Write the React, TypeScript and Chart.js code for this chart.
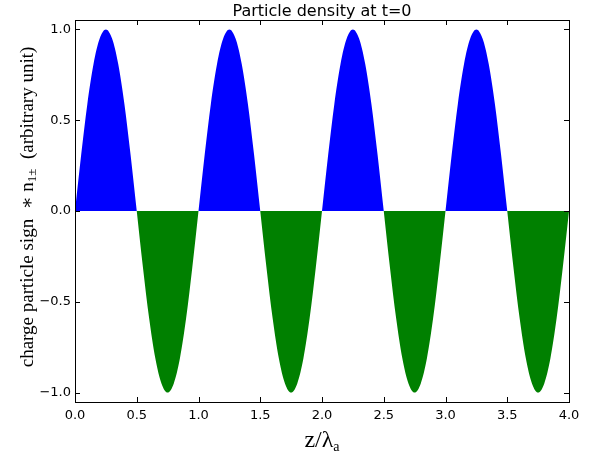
import React, { useEffect, useRef } from "react";
import { Chart, registerables } from "chart.js";

Chart.register(...registerables);

const zValues = [
  0, 0.05, 0.1, 0.15, 0.2, 0.25, 0.3, 0.35, 0.4, 0.45, 0.5, 0.55, 0.6, 0.65, 0.7, 0.75, 0.8, 0.85, 0.9, 0.95,
  1, 1.05, 1.1, 1.15, 1.2, 1.25, 1.3, 1.35, 1.4, 1.45, 1.5, 1.55, 1.6, 1.65, 1.7, 1.75, 1.8, 1.85, 1.9, 1.95,
  2, 2.05, 2.1, 2.15, 2.2, 2.25, 2.3, 2.35, 2.4, 2.45, 2.5, 2.55, 2.6, 2.65, 2.7, 2.75, 2.8, 2.85, 2.9, 2.95,
  3, 3.05, 3.1, 3.15, 3.2, 3.25, 3.3, 3.35, 3.4, 3.45, 3.5, 3.55, 3.6, 3.65, 3.7, 3.75, 3.8, 3.85, 3.9, 3.95,
  4,
];

const density = [
  0, 0.31, 0.59, 0.81, 0.95, 1, 0.95, 0.81, 0.59, 0.31, 0, -0.31, -0.59, -0.81, -0.95, -1, -0.95, -0.81, -0.59, -0.31,
  0, 0.31, 0.59, 0.81, 0.95, 1, 0.95, 0.81, 0.59, 0.31, 0, -0.31, -0.59, -0.81, -0.95, -1, -0.95, -0.81, -0.59, -0.31,
  0, 0.31, 0.59, 0.81, 0.95, 1, 0.95, 0.81, 0.59, 0.31, 0, -0.31, -0.59, -0.81, -0.95, -1, -0.95, -0.81, -0.59, -0.31,
  0, 0.31, 0.59, 0.81, 0.95, 1, 0.95, 0.81, 0.59, 0.31, 0, -0.31, -0.59, -0.81, -0.95, -1, -0.95, -0.81, -0.59, -0.31,
  0,
];

const xTicks = [0, 0.5, 1, 1.5, 2, 2.5, 3, 3.5, 4];
const yTicks = [-1, -0.5, 0, 0.5, 1];

const TITLE = "Particle density at t=0";

const fmt = (v: number) => {
  const s = Math.abs(v).toFixed(1);
  return v < 0 ? "\u2212" + s : s;
};

const framePlugin = {
  id: "frame",
  afterDraw(chart: any) {
    const { ctx, chartArea } = chart;
    const { left, right, top, bottom } = chartArea;
    const xs = chart.scales.x;
    const ys = chart.scales.y;
    ctx.save();
    ctx.strokeStyle = "#000";
    ctx.lineWidth = 1;
    const L = 5;
    ctx.beginPath();
    xTicks.forEach((v) => {
      const px = Math.round(xs.getPixelForValue(v)) + 0.5;
      ctx.moveTo(px, bottom);
      ctx.lineTo(px, bottom - L);
      ctx.moveTo(px, top);
      ctx.lineTo(px, top + L);
    });
    yTicks.forEach((v) => {
      const py = Math.round(ys.getPixelForValue(v)) + 0.5;
      ctx.moveTo(left, py);
      ctx.lineTo(left + L, py);
      ctx.moveTo(right, py);
      ctx.lineTo(right - L, py);
    });
    ctx.stroke();
    ctx.strokeRect(Math.round(left) + 0.5, Math.round(top) + 0.5, Math.round(right - left), Math.round(bottom - top));

    // title
    ctx.fillStyle = "#000";
    ctx.font = "16px 'DejaVu Sans'";
    ctx.textAlign = "center";
    ctx.textBaseline = "alphabetic";
    ctx.fillText(TITLE, (left + right) / 2, 16);

    // x label: z/λ_a
    const serif = "'Liberation Serif', 'DejaVu Serif', serif";
    const main = "z/\u03bb";
    ctx.font = "24px " + serif;
    const w1 = ctx.measureText(main).width;
    ctx.font = "14px " + serif;
    const w2 = ctx.measureText("a").width;
    const x0 = (left + right) / 2 - (w1 + w2) / 2;
    ctx.textAlign = "left";
    ctx.font = "24px " + serif;
    ctx.fillText(main, x0, 447);
    ctx.font = "14px " + serif;
    ctx.fillText("a", x0 + w1, 451);

    // y label
    ctx.translate(33, 207);
    ctx.rotate(-Math.PI / 2);
    const p1 = "charge particle sign  \u2217 n";
    const p2 = "1\u00b1";
    const p3 = "  (arbitrary unit)";
    ctx.font = "19px " + serif;
    const a1 = ctx.measureText(p1).width;
    const a3 = ctx.measureText(p3).width;
    ctx.font = "13px " + serif;
    const a2 = ctx.measureText(p2).width;
    let cx = -(a1 + a2 + a3) / 2;
    ctx.font = "19px " + serif;
    ctx.fillText(p1, cx, 0);
    cx += a1;
    ctx.font = "13px " + serif;
    ctx.fillText(p2, cx, 3);
    cx += a2;
    ctx.font = "19px " + serif;
    ctx.fillText(p3, cx, 0);
    ctx.restore();
  },
};

export default function App() {
  const ref = useRef<HTMLCanvasElement>(null);
  useEffect(() => {
    if (!ref.current) return;
    const points = zValues.map((z, i) => ({ x: z, y: density[i] }));
    const chart = new Chart(ref.current, {
      type: "line",
      data: {
        datasets: [
          {
            data: points,
            borderWidth: 0,
            borderColor: "rgba(0,0,0,0)",
            pointRadius: 0,
            cubicInterpolationMode: "monotone",
            fill: { target: { value: 0 }, above: "#0000ff", below: "#008000" },
          } as any,
        ],
      },
      options: {
        animation: false,
        responsive: false,
        events: [],
        layout: { padding: { left: 0, right: 23, top: 20, bottom: 0 } },
        plugins: { legend: { display: false }, tooltip: { enabled: false }, title: { display: false } },
        scales: {
          x: {
            type: "linear",
            min: 0,
            max: 4,
            grid: { display: false, drawTicks: false },
            border: { display: false },
            afterBuildTicks: (s: any) => {
              s.ticks = xTicks.map((v) => ({ value: v }));
            },
            afterFit: (s: any) => {
              s.height = 54;
            },
            ticks: {
              padding: 6,
              color: "#000",
              font: { family: "'DejaVu Sans'", size: 13 },
              maxRotation: 0,
              autoSkip: false,
              callback: (v: any) => fmt(Number(v)),
            },
          },
          y: {
            type: "linear",
            min: -1.052,
            max: 1.052,
            grid: { display: false, drawTicks: false },
            border: { display: false },
            afterBuildTicks: (s: any) => {
              s.ticks = yTicks.map((v) => ({ value: v }));
            },
            afterFit: (s: any) => {
              s.width = 75;
            },
            ticks: {
              padding: 4,
              color: "#000",
              font: { family: "'DejaVu Sans'", size: 13 },
              autoSkip: false,
              callback: (v: any) => fmt(Number(v)),
            },
          },
        },
      },
      plugins: [framePlugin],
    });
    return () => chart.destroy();
  }, []);
  return (
    <div style={{ position: "fixed", left: 0, top: 0, width: 592, height: 456, background: "#fff" }}>
      <canvas ref={ref} width={592} height={456} style={{ width: 592, height: 456 }} />
    </div>
  );
}
